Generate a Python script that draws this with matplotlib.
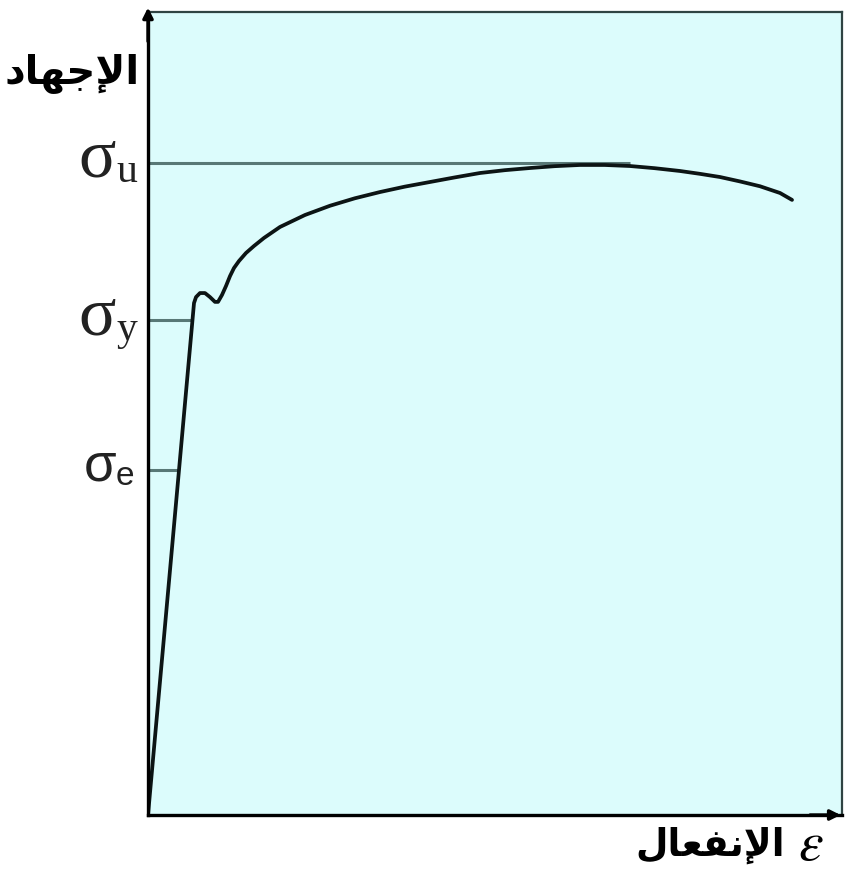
import matplotlib.pyplot as plt
import numpy as np

# stress-strain curve of a ductile metal (strain %, stress % of full scale)
strain = [0.0, 6.63, 6.92, 7.49, 8.21, 8.93, 9.65, 10.09, 10.66, 11.24, 11.82,
          12.39, 13.11, 14.12, 15.27, 16.71, 19.02, 22.62, 26.22, 29.8, 33.43,
          37.0, 40.63, 44.2, 47.84, 51.4, 55.04, 58.6, 62.25, 65.8, 69.45,
          73.0, 76.66, 79.5, 82.42, 85.3, 88.18, 91.07, 92.8]
stress = [0.0, 63.76, 64.5, 65.0, 65.0, 64.5, 63.9, 63.9, 64.76, 65.88, 67.12,
          68.12, 68.99, 69.99, 70.86, 71.86, 73.23, 74.72, 75.87, 76.8, 77.58,
          78.25, 78.83, 79.4, 79.95, 80.3, 80.57, 80.8, 80.95, 80.95, 80.82,
          80.55, 80.2, 79.85, 79.45, 78.9, 78.3, 77.46, 76.6]

# characteristic stress levels
levels = {"u": 81.2, "y": 61.6, "e": 43.0}
sigma_u_end = 69.5

# arabic labels written in presentation forms, visual order
stress_label = "\uFEA9\uFE8E\uFEEC\uFE9F\uFEF9\uFE8D"          # الإجهاد
strain_label = "\uFEDD\uFE8E\uFECC\uFED4\uFEE7\uFEF9\uFE8D"    # الإنفعال

W, H = 848, 873
fig = plt.figure(figsize=(W / 100, H / 100), dpi=100)
x0, x1, y0, y1 = 148, 842, 12, 815
ax = fig.add_axes([x0 / W, 1 - y1 / H, (x1 - x0) / W, (y1 - y0) / H])
ax.set_facecolor("#dcfcfc")
ax.set_xlim(0, 100)
ax.set_ylim(0, 100)
ax.set_xticks([])
ax.set_yticks([])
for side in ["top", "right"]:
    ax.spines[side].set_color("#2f4443")
    ax.spines[side].set_linewidth(1.6)
for side in ["left", "bottom"]:
    ax.spines[side].set_color("black")
    ax.spines[side].set_linewidth(2.4)

# reference lines
ax.plot([0, sigma_u_end], [levels["u"]] * 2, color="#587876", lw=2.2,
        solid_capstyle="butt")
for key in ["y", "e"]:
    xe = np.interp(levels[key], stress[:2], strain[:2])
    ax.plot([0, xe], [levels[key]] * 2, color="#587876", lw=2.2,
            solid_capstyle="butt")

ax.plot(strain, stress, color="#0c1414", lw=2.7, solid_joinstyle="round",
        solid_capstyle="round")

# axis arrows
ax.annotate("", xy=(0, 100.9), xytext=(0, 96), xycoords="data",
            arrowprops=dict(arrowstyle="-|>,head_length=0.6,head_width=0.3",
                            color="black", lw=2.4), annotation_clip=False)
ax.annotate("", xy=(100.2, 0), xytext=(95, 0), xycoords="data",
            arrowprops=dict(arrowstyle="-|>,head_length=0.6,head_width=0.3",
                            color="black", lw=2.4), annotation_clip=False)

# sigma labels
serif = ["Liberation Serif", "DejaVu Serif"]
sans = ["Liberation Sans", "DejaVu Sans"]
for key, fam, fs, fss, gap, sub_off in [("u", serif, 50, 30, -23, -6),
                                        ("y", serif, 50, 30, -23, -7),
                                        ("e", sans, 38, 24, -23, -5)]:
    ax.annotate("σ", xy=(0, levels[key]), xytext=(gap, 2),
                textcoords="offset points", ha="right", va="center",
                fontsize=fs, family=fam, color="#222", annotation_clip=False)
    ax.annotate(key, xy=(0, levels[key]), xytext=(gap, sub_off),
                textcoords="offset points", ha="left", va="center",
                fontsize=fss, family=fam, color="#222", annotation_clip=False)

fig.text(140 / W, 1 - 73 / H, stress_label, ha="right", va="center",
         fontsize=29, fontweight="bold", family=["DejaVu Sans"])
fig.text(785 / W, 1 - 845 / H, strain_label, ha="right", va="center",
         fontsize=27, fontweight="bold", family=["DejaVu Sans"])
fig.text(798 / W, 1 - 845 / H, r"$\varepsilon$", ha="left", va="center",
         fontsize=40, math_fontfamily="stix")

fig.savefig("out.png", dpi=100, facecolor="white")
